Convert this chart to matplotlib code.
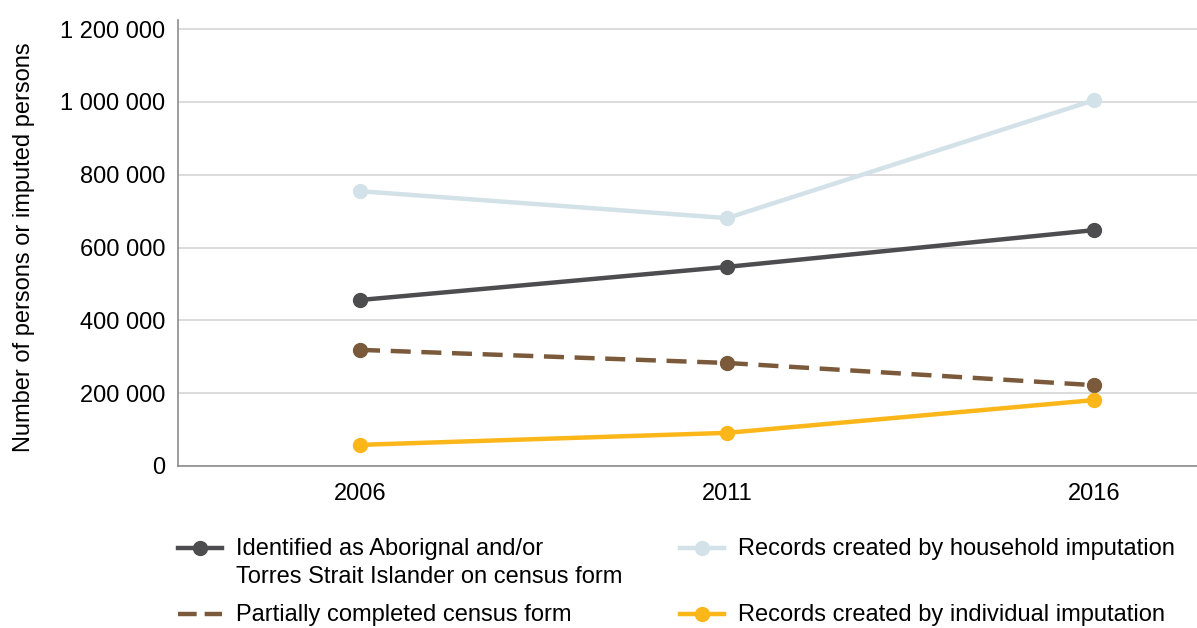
import numpy as np
import matplotlib
matplotlib.use("Agg")
import matplotlib.pyplot as plt
from matplotlib.lines import Line2D
from matplotlib.ticker import FuncFormatter

plt.rcParams['font.family'] = ['Liberation Sans', 'DejaVu Sans']

#-----data-----#
years = [2006, 2011, 2016]
identified = [456000, 547000, 648000]
household = [755000, 681000, 1005000]
partial = [319000, 283000, 222000]
individual = [58000, 91000, 181000]

labels = ['Identified as Aborignal and/or\nTorres Strait Islander on census form',
          'Records created by household imputation',
          'Partially completed census form',
          'Records created by individual imputation']

#-----styles-----#
C_ID = '#4d4d4f'
C_HH = '#d3e1e8'
C_PA = '#7a5a3a'
C_IN = '#fbb61a'
FS = 17

fig = plt.figure(figsize=(11.97, 6.28), dpi=100)
ax = fig.add_axes([0.1487, 0.258, 1 - 0.1487, 0.710])

lw = 3.2
ms = 10
ax.plot(years, household, '-o', color=C_HH, lw=lw, ms=ms, zorder=3)
ax.plot(years, identified, '-o', color=C_ID, lw=lw, ms=ms, zorder=4)
ax.plot(years, partial, '--o', color=C_PA, lw=lw, ms=ms, dashes=(4.5, 2.4), zorder=4)
ax.plot(years, individual, '-o', color=C_IN, lw=lw, ms=ms, zorder=4)

ax.set_xlim(2003.52, 2017.4)
ax.set_ylim(0, 1225000)
ax.set_xticks(years)
ax.set_yticks(np.arange(0, 1200001, 200000))
ax.yaxis.set_major_formatter(FuncFormatter(lambda v, p: '{:,.0f}'.format(v).replace(',', ' ')))
ax.tick_params(axis='both', length=0, labelsize=FS)
ax.tick_params(axis='y', pad=9)
ax.tick_params(axis='x', pad=12)
ax.grid(axis='y', color='#d9d9d9', lw=1.3)
ax.set_axisbelow(True)
for s in ['top', 'right']:
    ax.spines[s].set_visible(False)
for s in ['left', 'bottom']:
    ax.spines[s].set_color('#8c8c8c')
    ax.spines[s].set_linewidth(1.2)
ax.set_ylabel('Number of persons or imputed persons', fontsize=FS)
ax.yaxis.set_label_coords(-0.140, 0.491)

#-----legend (drawn by hand, rows aligned)-----#
W, H = 1197, 628
entries = [
    (178, 548, C_ID, '-', True, labels[0]),
    (680, 548, C_HH, '-', True, labels[1]),
    (178, 614, C_PA, '--', False, labels[2]),
    (680, 614, C_IN, '-', True, labels[3]),
]
for x0, y0, c, ls, mk, lab in entries:
    yf = 1 - y0 / H
    ln = Line2D([x0 / W, (x0 + 44) / W], [yf, yf], transform=fig.transFigure,
                color=c, lw=lw, ls=ls, dashes=(4.2, 1.8) if ls == '--' else (None, None))
    fig.add_artist(ln)
    if mk:
        fig.add_artist(Line2D([(x0 + 22) / W], [yf], transform=fig.transFigure,
                              marker='o', ms=ms, color=c, lw=0))
    fig.text((x0 + 58) / W, yf + 10 / H, lab, fontsize=FS, va='top', ha='left',
             linespacing=1.38)

fig.savefig('out.png', dpi=100)
